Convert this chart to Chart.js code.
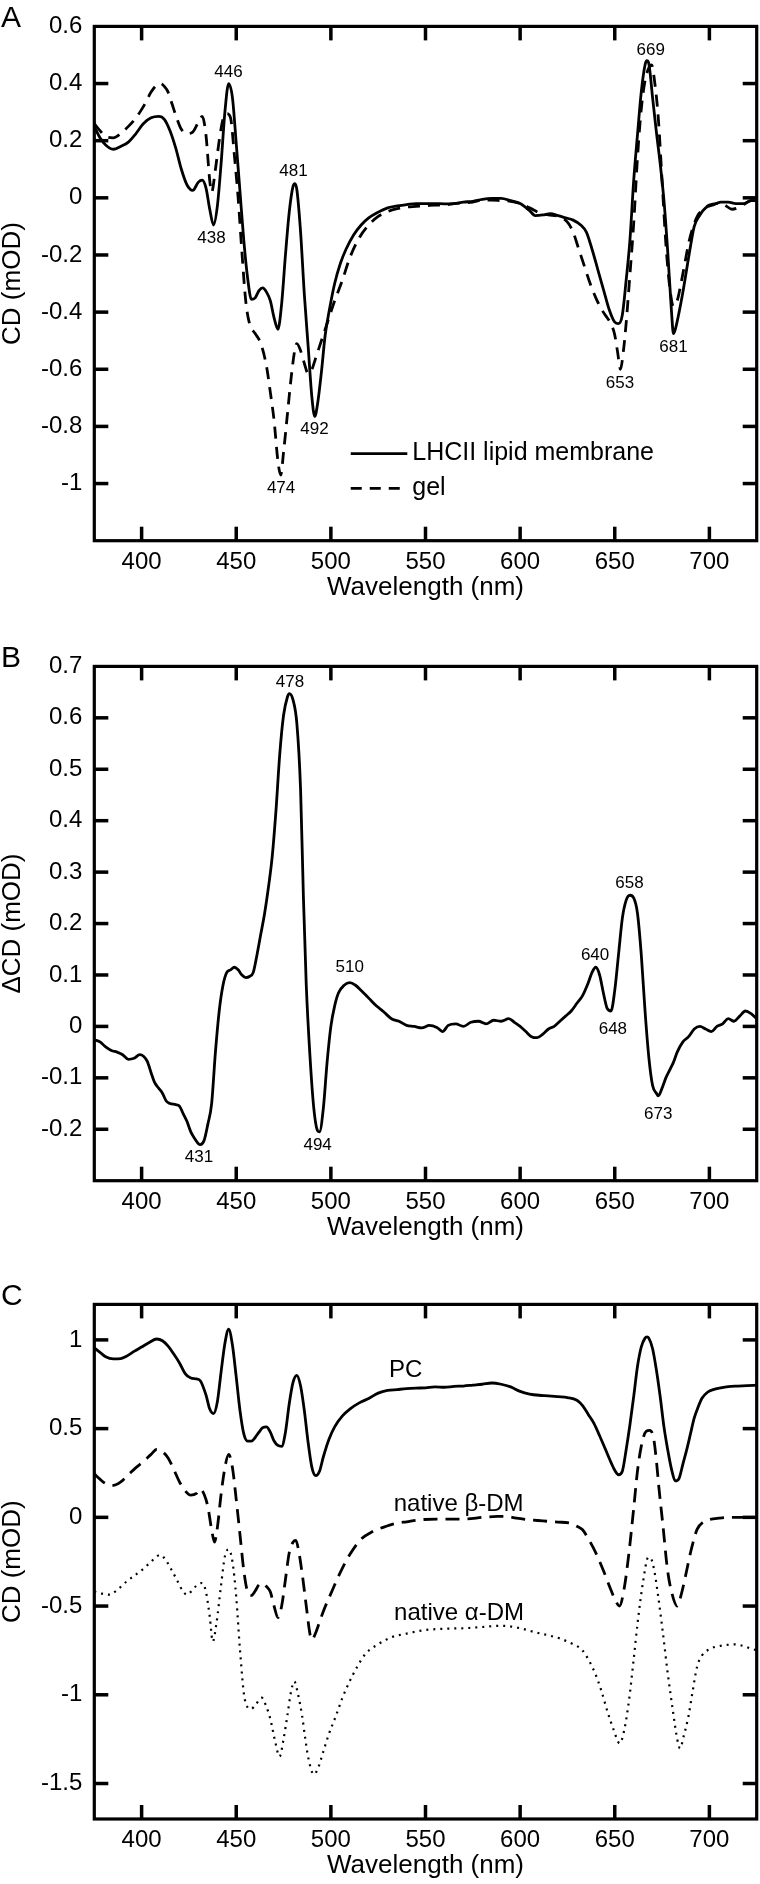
<!DOCTYPE html>
<html>
<head>
<meta charset="utf-8">
<script src="https://cdn.jsdelivr.net/npm/chart.js@4.4.1/dist/chart.umd.min.js"></script>
<style>
  html, body { margin: 0; padding: 0; background: #fff; }
  body { width: 760px; height: 1884px; position: relative; overflow: hidden; }
  canvas { position: absolute; left: 0; }
</style>
</head>
<body>
<canvas id="chartA" width="760" height="606" style="top:0px"></canvas>
<canvas id="chartB" width="760" height="606" style="top:640px"></canvas>
<canvas id="chartC" width="760" height="606" style="top:1278px"></canvas>
<script>
const FONT = '"Liberation Sans", Arial, Helvetica, sans-serif';

// shared x axis
const xTicks = [400, 450, 500, 550, 600, 650, 700];

// A - LHCII lipid membrane vs gel
const yTicksA = [0.6, 0.4, 0.2, 0, -0.2, -0.4, -0.6, -0.8, -1];
const wlMembrane = [375,378,381,385,389,393,397,401,405,409,
  412,415,418,421,424,427,430,432,434,436,
  438,440,442,444,446,448,450,452,454,456,
  458,460,462,464,466,468,470,472,474,476,
  478,480,481,482,484,486,488,490,491.5,493,
  495,497,499,502,505,508,512,516,520,525,
  530,535,540,545,550,555,560,565,570,575,
  580,585,590,595,600,605,608,612,616,620,
  624,628,632,635,638,641,644,647,650,652,
  654,656,658,660,662,664,666,667,668,670,
  672,674,676,678,680,681,682,684,686,688,
  690,692,695,698,702,706,710,714,718,722,
  725];
const cdMembrane = [0.25,0.21,0.185,0.17,0.18,0.195,0.225,0.26,0.28,0.285,
  0.275,0.235,0.175,0.10,0.045,0.026,0.055,0.062,0.035,-0.04,
  -0.095,-0.03,0.12,0.30,0.40,0.35,0.19,0.02,-0.15,-0.28,
  -0.355,-0.35,-0.325,-0.315,-0.33,-0.36,-0.42,-0.46,-0.37,-0.2,
  -0.05,0.04,0.05,0.03,-0.12,-0.34,-0.52,-0.70,-0.765,-0.72,
  -0.61,-0.48,-0.40,-0.30,-0.23,-0.18,-0.13,-0.095,-0.07,-0.05,
  -0.035,-0.028,-0.024,-0.02,-0.02,-0.02,-0.021,-0.02,-0.015,-0.012,
  -0.005,-0.002,-0.002,-0.01,-0.02,-0.045,-0.062,-0.06,-0.055,-0.062,
  -0.07,-0.078,-0.095,-0.12,-0.18,-0.25,-0.32,-0.39,-0.435,-0.44,
  -0.41,-0.29,-0.15,0.06,0.22,0.37,0.465,0.48,0.47,0.35,
  0.23,0.12,-0.01,-0.19,-0.40,-0.475,-0.46,-0.40,-0.33,-0.25,
  -0.17,-0.10,-0.06,-0.035,-0.025,-0.015,-0.015,-0.02,-0.02,-0.01,
  -0.01];
const wlGel = [375,378,381,385,389,393,397,401,405,408,
  410,412,414,416,418,421,424,427,430,432,
  434,436,437,439,441,443,445,447,449,451,
  453,455,457,460,463,466,468,470,472,473.5,
  475,477,479,481,482,484,486,488,490,492,
  495,498,502,506,510,515,520,525,530,535,
  540,545,550,555,560,565,570,575,580,585,
  590,595,600,605,610,615,620,625,628,631,
  634,637,640,643,646,648,650,651.5,653,654.5,
  656,658,660,662,664,666,668,669.5,671,673,
  675,677,679,681,683,685,687,689,691,694,
  697,700,704,708,712,715,719,722,725];
const cdGel = [0.26,0.235,0.215,0.21,0.225,0.25,0.28,0.32,0.37,0.395,
  0.40,0.39,0.37,0.33,0.29,0.24,0.225,0.23,0.265,0.285,
  0.22,0.06,0.02,0.10,0.20,0.275,0.295,0.28,0.15,0.0,
  -0.19,-0.36,-0.44,-0.475,-0.51,-0.59,-0.68,-0.78,-0.92,-0.97,
  -0.89,-0.76,-0.63,-0.53,-0.51,-0.535,-0.58,-0.615,-0.60,-0.56,
  -0.50,-0.44,-0.36,-0.29,-0.21,-0.14,-0.095,-0.065,-0.048,-0.038,
  -0.032,-0.03,-0.028,-0.025,-0.025,-0.02,-0.018,-0.015,-0.008,-0.008,
  -0.01,-0.012,-0.02,-0.035,-0.052,-0.06,-0.065,-0.085,-0.12,-0.18,
  -0.24,-0.30,-0.35,-0.39,-0.42,-0.44,-0.48,-0.54,-0.60,-0.54,
  -0.44,-0.27,-0.09,0.14,0.31,0.41,0.455,0.465,0.41,0.28,
  0.06,-0.16,-0.31,-0.38,-0.36,-0.30,-0.23,-0.16,-0.11,-0.06,
  -0.04,-0.025,-0.02,-0.025,-0.04,-0.035,-0.02,-0.01,-0.01];
const peaksA = [['446', 445.9, 0.441], ['438', 436.9, -0.14], ['481', 480.2, 0.092],
  ['492', 491.3, -0.81], ['474', 473.7, -1.017], ['653', 652.8, -0.648],
  ['681', 681, -0.523], ['669', 669, 0.518]];
const legendA = ['LHCII lipid membrane', 'gel'];

// B - difference spectrum
const yTicksB = [0.7, 0.6, 0.5, 0.4, 0.3, 0.2, 0.1, 0, -0.1, -0.2];
const wlDiff = [375,378,381,384,387,390,393,396,399,401,
  403,405,407,409,411,413,415,418,420,422,
  424,426,428,430,431,433,435,437,439,441,
  443,445,447,449,451,453,455,457,459,461,
  463,465,467,469,471,473,475,477,478,480,
  482,484,485.5,487,489,491,493,494,496,498,
  500,502,504,507,510,513,516,520,524,528,
  532,536,540,544,548,552,556,559,562,566,
  570,574,578,582,586,590,594,597,600,603,
  606,609,612,615,618,621,624,627,630,633,
  636,638,640,642,644,646,648,650,652,654,
  656,658,660,662,664,666,668,670,672,673,
  675,677,679,681,683,686,689,692,695,698,
  701,704,707,710,713,716,719,722,725];
const cdDiff = [-0.026,-0.03,-0.04,-0.047,-0.05,-0.055,-0.064,-0.062,-0.055,-0.058,
  -0.068,-0.09,-0.11,-0.12,-0.13,-0.145,-0.15,-0.152,-0.155,-0.17,
  -0.185,-0.205,-0.218,-0.228,-0.23,-0.222,-0.19,-0.15,-0.05,0.03,
  0.08,0.105,0.11,0.115,0.11,0.10,0.095,0.097,0.105,0.14,
  0.18,0.22,0.27,0.33,0.42,0.53,0.605,0.64,0.647,0.635,
  0.59,0.46,0.25,0.08,-0.06,-0.16,-0.203,-0.205,-0.16,-0.07,
  0.0,0.04,0.065,0.08,0.085,0.08,0.07,0.055,0.04,0.028,
  0.015,0.01,0.002,0.0,-0.003,0.002,-0.002,-0.01,0.002,0.005,
  0.0,0.008,0.01,0.005,0.012,0.01,0.015,0.008,0.0,-0.01,
  -0.02,-0.022,-0.015,-0.005,0.0,0.01,0.02,0.03,0.045,0.06,
  0.085,0.105,0.115,0.1,0.065,0.035,0.03,0.07,0.14,0.21,
  0.245,0.255,0.25,0.22,0.14,0.03,-0.06,-0.115,-0.13,-0.135,
  -0.12,-0.1,-0.085,-0.07,-0.05,-0.03,-0.02,-0.005,0.0,-0.005,
  -0.01,0.0,0.005,0.015,0.01,0.02,0.03,0.025,0.015];
const peaksB = [['478', 478.4, 0.67], ['510', 510, 0.115], ['431', 430.3, -0.255],
  ['494', 493, -0.231], ['640', 639.6, 0.139], ['658', 657.8, 0.279],
  ['648', 649, -0.005], ['673', 673, -0.17]];

// C - PC, native beta-DM, native alpha-DM
const yTicksC = [1, 0.5, 0, -0.5, -1, -1.5];
const wlPC = [375,378,381,385,389,392,396,400,404,408,
  411,414,417,420,423,426,429,431,434,436,
  438,440,442,444,446,448,450,452,454,456,
  458,460,462,464,466,468,470,472,474,476,
  478,480,482,484,486,488,490,492,494,496,
  499,502,506,510,515,520,525,530,535,540,
  545,550,555,560,565,570,575,580,585,590,
  595,600,605,610,615,620,625,630,633,636,
  639,642,645,648,650,652,654,656,658,660,
  662,664,666,667,668,670,672,674,676,678,
  680,682,684,686,688,690,692,694,696,699,
  702,706,710,715,720,725];
const cdPC = [0.955,0.93,0.905,0.893,0.895,0.908,0.935,0.96,0.985,1.005,
  0.995,0.965,0.92,0.87,0.81,0.785,0.78,0.77,0.69,0.61,
  0.585,0.65,0.82,0.98,1.06,0.97,0.79,0.6,0.47,0.43,
  0.43,0.45,0.48,0.505,0.51,0.48,0.43,0.405,0.40,0.48,
  0.64,0.76,0.80,0.74,0.6,0.42,0.28,0.235,0.26,0.34,
  0.44,0.51,0.57,0.61,0.645,0.67,0.70,0.715,0.72,0.725,
  0.728,0.73,0.735,0.733,0.738,0.74,0.745,0.75,0.757,0.75,
  0.735,0.71,0.695,0.688,0.685,0.68,0.675,0.66,0.63,0.58,
  0.53,0.46,0.385,0.31,0.265,0.24,0.26,0.38,0.52,0.68,
  0.85,0.96,1.01,1.017,1.01,0.95,0.83,0.68,0.51,0.38,
  0.27,0.205,0.22,0.3,0.38,0.47,0.56,0.62,0.67,0.705,
  0.72,0.73,0.737,0.74,0.742,0.745];
const wlBeta = [375,378,381,385,389,393,397,401,405,408,
  411,414,417,420,423,426,429,431,433,435,
  437,438.5,440,442,444,446,448,450,452,454,
  456,458,460,462,464,466,468,470,472,474,
  476,478,480,481.5,483,485,487,489,490,492,
  494,496,500,505,510,516,522,528,534,540,
  548,556,564,572,580,588,592,598,604,612,
  620,626,630,633,636,640,644,648,650,652.5,
  655,657.5,660,662,664,666.5,668.5,670.5,672,673.3,
  675.5,677.8,680,683,685,688,690,693.5,697,700,
  705,711,718,725];
const cdBeta = [0.245,0.215,0.19,0.18,0.2,0.24,0.28,0.315,0.355,0.383,
  0.37,0.335,0.27,0.2,0.15,0.125,0.135,0.16,0.13,0.06,
  -0.07,-0.14,-0.06,0.13,0.28,0.355,0.28,0.1,-0.1,-0.3,
  -0.42,-0.44,-0.415,-0.38,-0.372,-0.39,-0.42,-0.5,-0.565,-0.5,
  -0.35,-0.2,-0.14,-0.13,-0.19,-0.33,-0.5,-0.66,-0.69,-0.65,
  -0.59,-0.53,-0.43,-0.31,-0.21,-0.123,-0.08,-0.055,-0.035,-0.025,
  -0.013,-0.01,-0.01,-0.009,0.0,0.005,0.006,-0.005,-0.013,-0.02,
  -0.027,-0.031,-0.05,-0.07,-0.12,-0.2,-0.3,-0.41,-0.46,-0.5,
  -0.4,-0.2,0.05,0.26,0.4,0.484,0.49,0.447,0.32,0.17,
  -0.05,-0.29,-0.42,-0.5,-0.44,-0.3,-0.2,-0.068,-0.025,-0.013,
  -0.005,0.0,0.0,0.0];
const wlAlpha = [375,379,383,387,392,396,401,405,408,410,
  413,416,419,422,424,426,429,432,434,436,
  437.6,439.5,442,444,446,448,450,452,454.5,457.8,
  460,463.4,466,468,470.5,472.9,475,477,479,480.7,
  482.5,484.8,486.5,488.1,491,493,496,499,502.7,506,
  509.5,514,518.4,525,532,540,549.8,560,572,580,
  590,600,608,615,621.7,627,632.9,636,639.6,643,
  646.3,649.5,652.6,655,657.6,660,662,665,667.7,669.5,
  671,673,675.5,678,681.1,683,684.5,686.5,689,691,
  693.5,696,699,703,707,713.7,718,722,725];
const cdAlpha = [-0.418,-0.43,-0.436,-0.41,-0.362,-0.33,-0.289,-0.25,-0.22,-0.212,
  -0.245,-0.3,-0.36,-0.42,-0.436,-0.42,-0.385,-0.37,-0.42,-0.56,
  -0.70,-0.6,-0.381,-0.22,-0.18,-0.25,-0.45,-0.75,-1.025,-1.08,
  -1.06,-1.016,-1.07,-1.136,-1.26,-1.348,-1.25,-1.118,-0.98,-0.925,
  -0.99,-1.118,-1.25,-1.357,-1.449,-1.42,-1.32,-1.22,-1.118,-1.02,
  -0.934,-0.84,-0.768,-0.715,-0.676,-0.655,-0.635,-0.628,-0.624,-0.618,
  -0.611,-0.625,-0.648,-0.665,-0.685,-0.71,-0.749,-0.8,-0.878,-0.98,
  -1.1,-1.2,-1.274,-1.2,-1.025,-0.8,-0.602,-0.36,-0.225,-0.24,
  -0.307,-0.45,-0.657,-0.88,-1.118,-1.25,-1.302,-1.23,-1.118,-0.99,
  -0.842,-0.78,-0.749,-0.73,-0.722,-0.716,-0.725,-0.74,-0.749];
const namesC = [['PC', 539.5, 0.827], ['native \u03b2-DM', 567.5, 0.072], ['native \u03b1-DM', 567.7, -0.544]];

const TICK = 14;
const TICK_W = 3.5;
const AREA_H = 525;

const toPoints = (wl, cd) => wl.map((w, i) => ({ x: w, y: cd[i] }));
const fmt = v => String(Math.round(v * 10) / 10);

// box with inward ticks on all four sides
const boxPlugin = {
  id: 'box',
  afterDraw(chart, args, o) {
    const { ctx, chartArea: a, scales: { x, y } } = chart;
    ctx.save();
    ctx.fillStyle = '#000';
    xTicks.forEach(v => {
      const px = x.getPixelForValue(v);
      ctx.fillRect(px - TICK_W / 2, a.bottom - TICK, TICK_W, TICK);
      ctx.fillRect(px - TICK_W / 2, a.top, TICK_W, TICK);
    });
    o.yTicks.forEach(v => {
      const py = y.getPixelForValue(v);
      if (Math.abs(py - a.top) < 2 || Math.abs(py - a.bottom) < 2) return;
      ctx.fillRect(a.left, py - TICK_W / 2, TICK, TICK_W);
      ctx.fillRect(a.right - TICK, py - TICK_W / 2, TICK, TICK_W);
    });
    ctx.strokeStyle = '#000';
    ctx.lineWidth = 3.2;
    ctx.strokeRect(a.left, a.top, a.right - a.left, a.bottom - a.top);
    ctx.restore();
  }
};

// panel letter, peak labels, curve names, legend
const notesPlugin = {
  id: 'notes',
  afterDraw(chart, args, o) {
    const { ctx, scales: { x, y } } = chart;
    ctx.save();
    ctx.fillStyle = '#000';
    ctx.strokeStyle = '#000';
    ctx.font = '30px ' + FONT;
    ctx.textAlign = 'left';
    ctx.textBaseline = 'alphabetic';
    ctx.fillText(o.letter, 1, o.letterBase);

    ctx.textAlign = 'center';
    ctx.textBaseline = 'middle';
    ctx.font = '17px ' + FONT;
    (o.peaks || []).forEach(([t, w, v]) => ctx.fillText(t, x.getPixelForValue(w), y.getPixelForValue(v)));

    ctx.font = '24px ' + FONT;
    (o.names || []).forEach(([t, w, v]) => ctx.fillText(t, x.getPixelForValue(w), y.getPixelForValue(v)));

    if (o.legend) {
      const x0 = x.getPixelForValue(510.5), x1 = x.getPixelForValue(540.4);
      const rows = [[o.legend[0], [], -0.895], [o.legend[1], [11, 8], -1.017]];
      ctx.lineWidth = 2.8;
      ctx.font = '25px ' + FONT;
      ctx.textAlign = 'left';
      rows.forEach(([t, dash, v]) => {
        const py = y.getPixelForValue(v);
        ctx.setLineDash(dash);
        ctx.beginPath(); ctx.moveTo(x0, py); ctx.lineTo(x1, py); ctx.stroke();
        ctx.fillText(t, x.getPixelForValue(543), py);
      });
    }
    ctx.restore();
  }
};

function makePanel(id, cfg) {
  return new Chart(document.getElementById(id), {
    type: 'line',
    data: { datasets: cfg.datasets },
    options: {
      responsive: false,
      animation: false,
      events: [],
      layout: { padding: { top: cfg.padTop, right: 3.3, left: 0, bottom: 0 } },
      elements: {
        point: { radius: 0 },
        line: { borderColor: '#000', borderWidth: 2.8, cubicInterpolationMode: 'monotone', fill: false }
      },
      plugins: {
        legend: { display: false },
        tooltip: { enabled: false },
        box: { yTicks: cfg.yTicks },
        notes: cfg.notes
      },
      scales: {
        x: {
          type: 'linear', min: 375, max: 725,
          afterBuildTicks: s => { s.ticks = xTicks.map(v => ({ value: v })); },
          afterFit: s => { s.height = 606 - cfg.padTop - AREA_H; },
          grid: { display: false, drawTicks: false },
          border: { display: false },
          ticks: { font: { family: FONT, size: 24 }, color: '#000', padding: 7, autoSkip: false, maxRotation: 0, callback: v => String(v) },
          title: { display: true, text: 'Wavelength (nm)', color: '#000', font: { family: FONT, size: 26, lineHeight: 1 }, padding: { top: 0, bottom: 5 } }
        },
        y: {
          type: 'linear', min: cfg.yMin, max: cfg.yMax,
          afterBuildTicks: s => { s.ticks = cfg.yTicks.map(v => ({ value: v })); },
          afterFit: s => { s.width = 94.3; },
          grid: { display: false, drawTicks: false },
          border: { display: false },
          ticks: { font: { family: FONT, size: 24 }, color: '#000', padding: 12, autoSkip: false, callback: fmt },
          title: { display: true, text: cfg.yTitle, color: '#000', font: { family: FONT, size: 26, lineHeight: 1 }, padding: { top: 0, bottom: 0 } }
        }
      }
    },
    plugins: [boxPlugin, notesPlugin]
  });
}

makePanel('chartA', {
  padTop: 15.7, yMin: -1.2, yMax: 0.6, yTicks: yTicksA, yTitle: 'CD (mOD)',
  datasets: [
    { label: legendA[0], data: toPoints(wlMembrane, cdMembrane) },
    { label: legendA[1], data: toPoints(wlGel, cdGel), borderDash: [12, 8] }
  ],
  notes: { letter: 'A', letterBase: 27.3, peaks: peaksA, legend: legendA }
});

makePanel('chartB', {
  padTop: 15.7, yMin: -0.3, yMax: 0.7, yTicks: yTicksB, yTitle: '\u0394CD (mOD)',
  datasets: [
    { label: 'difference', data: toPoints(wlDiff, cdDiff) }
  ],
  notes: { letter: 'B', letterBase: 26.7, peaks: peaksB }
});

makePanel('chartC', {
  padTop: 16, yMin: -1.7, yMax: 1.2, yTicks: yTicksC, yTitle: 'CD (mOD)',
  datasets: [
    { label: 'PC', data: toPoints(wlPC, cdPC) },
    { label: 'native \u03b2-DM', data: toPoints(wlBeta, cdBeta), borderDash: [14, 8] },
    { label: 'native \u03b1-DM', data: toPoints(wlAlpha, cdAlpha), borderDash: [2, 5], borderWidth: 2.2 }
  ],
  notes: { letter: 'C', letterBase: 27, names: namesC }
});
</script>
</body>
</html>
